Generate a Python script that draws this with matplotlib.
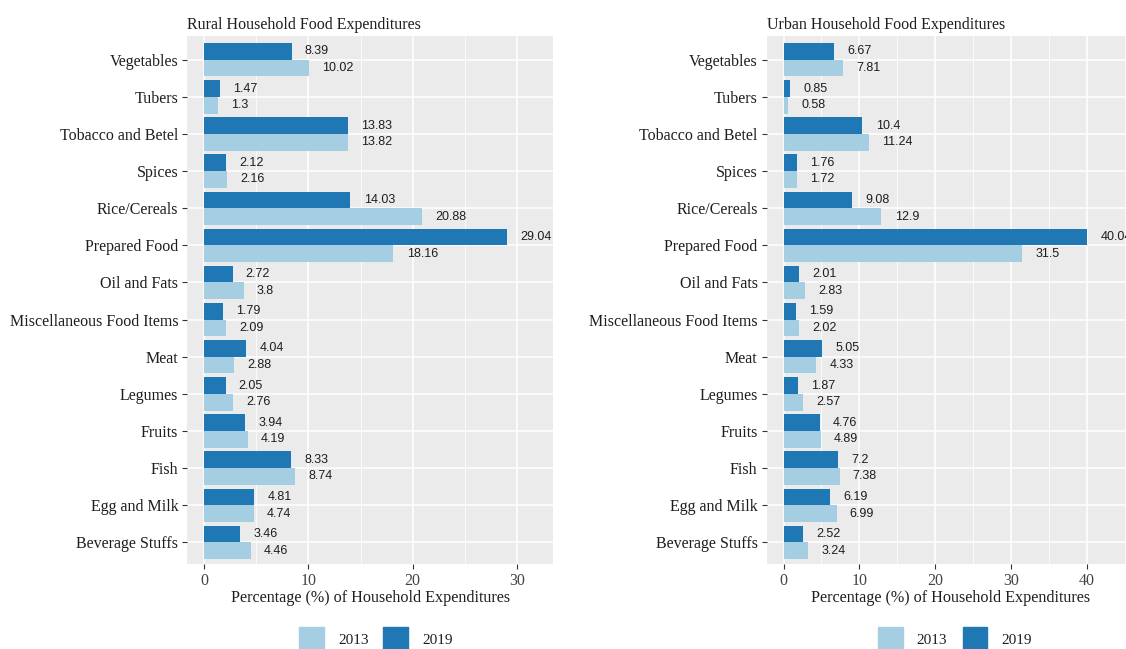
import matplotlib
matplotlib.use("Agg")
import matplotlib.pyplot as plt
from matplotlib.patches import Rectangle
import numpy as np

categories = ["Vegetables", "Tubers", "Tobacco and Betel", "Spices", "Rice/Cereals",
              "Prepared Food", "Oil and Fats", "Miscellaneous Food Items", "Meat",
              "Legumes", "Fruits", "Fish", "Egg and Milk", "Beverage Stuffs"]
rural_2019 = [8.39, 1.47, 13.83, 2.12, 14.03, 29.04, 2.72, 1.79, 4.04, 2.05, 3.94, 8.33, 4.81, 3.46]
rural_2013 = [10.02, 1.3, 13.82, 2.16, 20.88, 18.16, 3.8, 2.09, 2.88, 2.76, 4.19, 8.74, 4.74, 4.46]
urban_2019 = [6.67, 0.85, 10.4, 1.76, 9.08, 40.04, 2.01, 1.59, 5.05, 1.87, 4.76, 7.2, 6.19, 2.52]
urban_2013 = [7.81, 0.58, 11.24, 1.72, 12.9, 31.5, 2.83, 2.02, 4.33, 2.57, 4.89, 7.38, 6.99, 3.24]
years = ["2013", "2019"]
x_ticks = [0, 10, 20, 30, 40]

C13 = "#A6CEE3"
C19 = "#1F78B4"
SERIF = ["Liberation Serif", "DejaVu Serif"]
SANS = ["Liberation Sans", "DejaVu Sans"]
TXT = "#1e1e1e"

W, H = 1126, 649
fig = plt.figure(figsize=(W / 100, H / 100), dpi=100)


def fx(px):
    return px / W


def fy(py):
    return 1 - py / H


def panel(x0, x1px_width, xlim, ymax_ticks, title, v19, v13):
    top, bot = 36, 563.5
    ax = fig.add_axes([fx(x0), fy(bot), x1px_width / W, (bot - top) / H])
    ax.set_facecolor("#EBEBEB")
    n = len(categories)
    ypos = np.arange(n)[::-1]  # Vegetables at top
    bw = 0.45
    ax.barh(ypos + bw / 2, v19, height=bw, color=C19, zorder=3)
    ax.barh(ypos - bw / 2, v13, height=bw, color=C13, zorder=3)
    span = xlim[1] - xlim[0]
    off = 0.036 * span
    for y, v in zip(ypos, v19):
        ax.text(v + off, y + bw / 2, f"{v:g}", ha="left", va="center",
                fontsize=9, family=SANS, color=TXT, zorder=4, clip_on=False)
    for y, v in zip(ypos, v13):
        ax.text(v + off, y - bw / 2, f"{v:g}", ha="left", va="center",
                fontsize=9, family=SANS, color=TXT, zorder=4, clip_on=False)
    ax.set_xlim(*xlim)
    ax.set_ylim(-0.57, n - 1 + 0.64)
    ticks = [t for t in x_ticks if t <= ymax_ticks]
    ax.set_xticks(ticks)
    ax.set_xticks([t + 5 for t in ticks if t + 5 < xlim[1]], minor=True)
    ax.set_yticks(ypos)
    ax.set_yticklabels(categories, family=SERIF, fontsize=11.5, color=TXT)
    ax.set_xticklabels([str(t) for t in ticks], family=SERIF, fontsize=11.5, color="#444444")
    ax.grid(which="major", color="white", lw=1.1, zorder=1)
    ax.grid(which="minor", axis="x", color="white", lw=0.55, zorder=1)
    ax.tick_params(which="major", length=3.5, width=0.8, color="#333333", pad=3)
    ax.tick_params(which="minor", length=0)
    for s in ax.spines.values():
        s.set_visible(False)
    ax.set_xlabel("Percentage (%) of Household Expenditures", family=SERIF,
                  fontsize=11.6, color=TXT, labelpad=1)
    ax.set_title(title, family=SERIF, fontsize=11.5, color=TXT, loc="left", pad=5)
    return ax


panel(187.3, 366, (-1.62, 33.5), 30, "Rural Household Food Expenditures", rural_2019, rural_2013)
panel(766.7, 368, (-2.22, 46.3), 40, "Urban Household Food Expenditures", urban_2019, urban_2013)

# legends (bottom, one per panel)
def legend(key_x, text_x):
    for kx, tx, col, lab in zip(key_x, text_x, [C13, C19], years):
        fig.patches.append(Rectangle((fx(kx), fy(651)), 24.5 / W, 24.5 / H,
                                     transform=fig.transFigure, color=col))
        fig.text(fx(tx), fy(641), lab, ha="left", va="center", family=SERIF,
                 fontsize=11, color=TXT)


legend([299, 383], [338, 422.7])
legend([878, 962.7], [916.7, 1001.7])

fig.savefig("out.png", dpi=100)
